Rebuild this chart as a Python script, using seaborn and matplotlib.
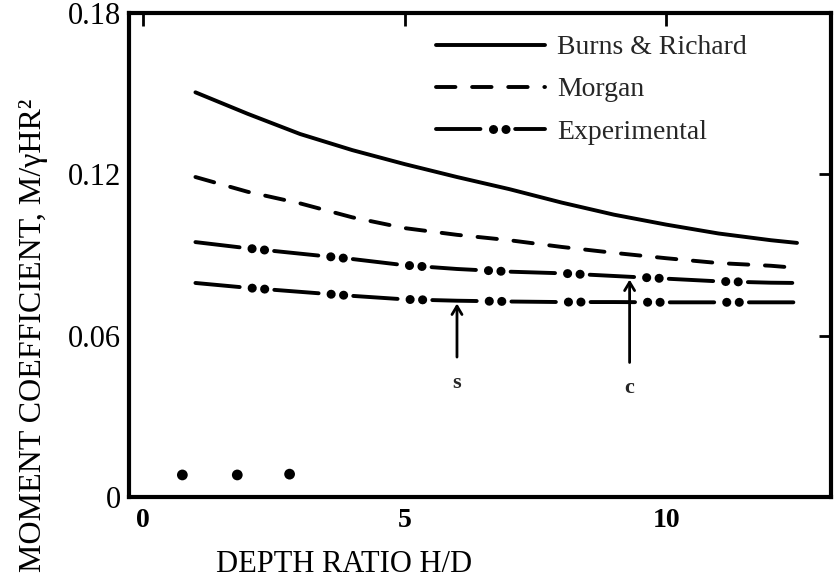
import numpy as np
import pandas as pd
import matplotlib
matplotlib.use("Agg")
import matplotlib.pyplot as plt
import seaborn as sns
from matplotlib.legend_handler import HandlerTuple

# values
depth = [1.0, 2, 3, 4, 5, 6, 7, 8, 9, 10, 11, 12, 12.5]
burns = [0.1505, 0.1425, 0.1350, 0.1290, 0.1238, 0.1190, 0.1145,
         0.1095, 0.1050, 0.1013, 0.0980, 0.0955, 0.0945]
morgan = [0.1190, 0.1135, 0.1092, 0.1040, 0.1000, 0.0975, 0.0955,
          0.0930, 0.0908, 0.0888, 0.0870, 0.0860, 0.0852]
exp_upper = [0.0948, 0.0925, 0.0905, 0.0885, 0.0862, 0.0848, 0.0838,
             0.0832, 0.0822, 0.0812, 0.0802, 0.0797, 0.0796]
exp_lower = [0.0796, 0.0778, 0.0763, 0.0748, 0.0735, 0.0730, 0.0727,
             0.0725, 0.0725, 0.0724, 0.0724, 0.0724, 0.0724]

stray_x = [0.75, 1.8, 2.8]
stray_y = [0.0082, 0.0082, 0.0085]

marker_x = [6.0, 9.3]
marker_labels = ["s", "c"]
marker_tail = [0.051, 0.049]

x_ticks = [0, 5, 10]
y_ticks = [0, 0.06, 0.12, 0.18]
y_tick_labels = ["0", "0.06", "0.12", "0.18"]

sns.set_theme(style="white")
plt.rcParams["font.family"] = ["Liberation Serif", "DejaVu Serif"]
plt.rcParams["lines.scale_dashes"] = False
plt.rcParams["lines.dash_capstyle"] = "round"

fig = plt.figure(figsize=(8.34, 5.83), dpi=100)
ax = fig.add_axes([129 / 834, 1 - 497 / 583, (831 - 129) / 834, 484 / 583])

lw = 2.8
sns.lineplot(x=depth, y=burns, ax=ax, color="black", lw=lw,
             label="Burns & Richard")
sns.lineplot(x=depth, y=morgan, ax=ax, color="black", lw=lw,
             linestyle=(0, (14, 12)), label="Morgan")

# experimental: long dash + two fat dots, drawn as two overlaid dash patterns
exp_handles = None
for i, series in enumerate([exp_upper, exp_lower]):
    dash = sns.lineplot(x=depth, y=series, ax=ax, color="black", lw=lw,
                        linestyle=(0, (32, 25))).lines[-1]
    dots = sns.lineplot(x=depth, y=series, ax=ax, color="black", lw=6.5,
                        linestyle=(16, (0.1, 8.9, 0.1, 47.9))).lines[-1]
    if i == 0:
        exp_handles = (dash, dots)

sns.scatterplot(x=stray_x, y=stray_y, ax=ax, color="black", s=60,
                edgecolor="none", legend=False)

tips = [np.interp(marker_x[0], depth, exp_lower),
        np.interp(marker_x[1], depth, exp_upper)]
for mx, tip, tail, lab in zip(marker_x, tips, marker_tail, marker_labels):
    ax.annotate("", xy=(mx, tip), xytext=(mx, tail),
                arrowprops=dict(arrowstyle="->,head_length=0.5,head_width=0.3",
                                color="black", lw=2))
    ax.text(mx, tail - 0.0085, lab, ha="center", va="center", fontsize=16,
            fontweight="bold")

ax.set_xlim(-0.27, 13.15)
ax.set_ylim(0, 0.18)
ax.set_xticks(x_ticks)
ax.set_xticklabels([str(t) for t in x_ticks], fontweight="bold")
ax.set_yticks(y_ticks)
ax.set_yticklabels(y_tick_labels)
ax.tick_params(axis="both", direction="in", length=9, width=2,
               top=True, right=True, labelsize=22, colors="black")
ax.tick_params(axis="x", pad=8, labelsize=20)
ax.tick_params(axis="y", pad=6)
for sp in ax.spines.values():
    sp.set_linewidth(3)
    sp.set_color("black")

ax.set_xlabel("DEPTH RATIO H/D", fontsize=22, color="black")
ax.xaxis.set_label_coords(0.306, -0.11)
ax.set_ylabel("MOMENT COEFFICIENT, M/γHR²", fontsize=23, color="black")
ax.yaxis.set_label_coords(-0.115, 0.335)

handles, labels = ax.get_legend_handles_labels()
handles = handles[:2] + [exp_handles]
labels = labels[:2] + ["Experimental"]
ax.legend(handles, labels, loc="upper left", bbox_to_anchor=(0.41, 0.995),
          frameon=False, fontsize=20, handlelength=3.9, handletextpad=0.45,
          labelspacing=0.6, borderaxespad=0.3,
          handler_map={tuple: HandlerTuple(ndivide=1, pad=0)})

fig.savefig("out.png", dpi=100)
